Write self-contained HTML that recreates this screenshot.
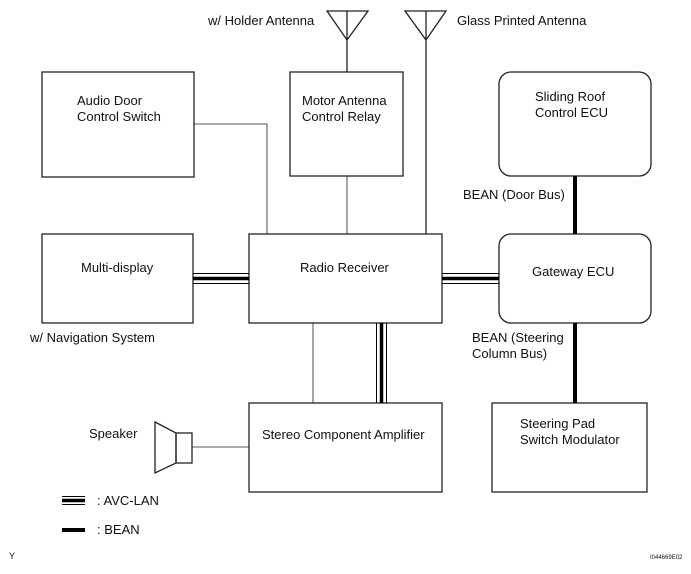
<!DOCTYPE html>
<html><head><style>
body{margin:0;background:#fff}
svg text{font-family:"Liberation Sans",Arial,sans-serif;font-size:13px;fill:#111}
</style></head><body>
<svg width="691" height="569" viewBox="0 0 691 569" xmlns="http://www.w3.org/2000/svg">
<g fill="none" stroke="#222" stroke-width="1.3">
<rect x="42" y="72" width="152" height="105"/>
<rect x="290" y="72" width="113" height="104"/>
<rect x="499" y="72" width="152" height="104" rx="12"/>
<rect x="42" y="234" width="151" height="89"/>
<rect x="249" y="234" width="193" height="89"/>
<rect x="499" y="234" width="152" height="89" rx="12"/>
<rect x="249" y="403" width="193" height="89"/>
<rect x="492" y="403" width="155" height="89"/>
<path d="M327 11 L368 11 L347 40 Z M347 11 V72"/>
<path d="M405 11 L446 11 L426 40 Z M426 11 V234"/>
<path d="M194 124 H267 V234" stroke-width="0.8"/>
<path d="M347 176 V234" stroke-width="0.8"/>
<path d="M313 323 V403" stroke-width="0.8"/>
<path d="M155 422 L176 433 L176 463 L155 473 Z"/>
<rect x="176" y="433" width="16" height="30"/>
<path d="M192 447 H249" stroke-width="0.8"/>
</g>
<g stroke="#000" stroke-width="4">
<path d="M575 176 V234"/>
<path d="M575 323 V403"/>
<path d="M62 530 H85"/>
</g>
<g stroke="#000">
<path d="M193 273.5 H249 M193 283.5 H249 M442 273.5 H499 M442 283.5 H499 M376.5 323 V403 M386.5 323 V403 M62 496.5 H85 M62 504.5 H85" stroke-width="1"/>
<path d="M193 278.5 H249 M442 278.5 H499 M381.5 323 V403 M62 500.5 H85" stroke-width="3.5"/>
</g>
<text x="208" y="25">w/ Holder Antenna</text>
<text x="457" y="25">Glass Printed Antenna</text>
<text x="77" y="105">Audio Door</text>
<text x="77" y="121">Control Switch</text>
<text x="302" y="105">Motor Antenna</text>
<text x="302" y="121">Control Relay</text>
<text x="535" y="101">Sliding Roof</text>
<text x="535" y="117">Control ECU</text>
<text x="463" y="199">BEAN (Door Bus)</text>
<text x="81" y="272">Multi-display</text>
<text x="300" y="272">Radio Receiver</text>
<text x="532" y="276">Gateway ECU</text>
<text x="30" y="342">w/ Navigation System</text>
<text x="472" y="342">BEAN (Steering</text>
<text x="472" y="358">Column Bus)</text>
<text x="89" y="438">Speaker</text>
<text x="262" y="439">Stereo Component Amplifier</text>
<text x="520" y="428">Steering Pad</text>
<text x="520" y="444">Switch Modulator</text>
<text x="97" y="505">: AVC-LAN</text>
<text x="97" y="534">: BEAN</text>
<text x="9" y="559" style="font-size:9px">Y</text>
<text x="650" y="559" style="font-size:6px">I044669E02</text>
</svg>
</body></html>
